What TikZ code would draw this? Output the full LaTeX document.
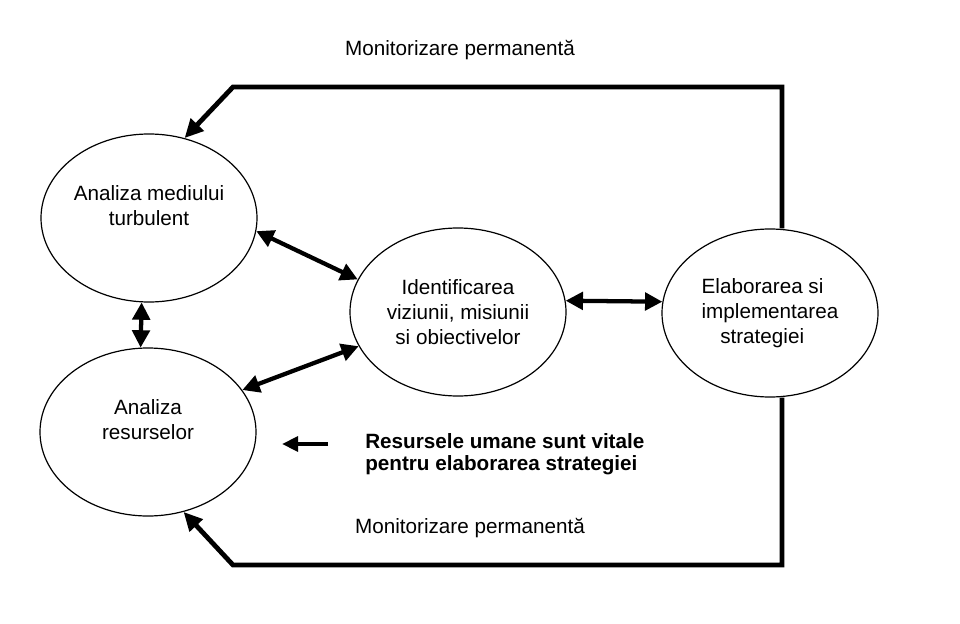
\documentclass[tikz,border=0pt]{standalone}
\usepackage{fontspec}
\setmainfont{Liberation Sans}
\usetikzlibrary{arrows.meta}
\usetikzlibrary{shapes.geometric}

\begin{document}
\begin{tikzpicture}[x=0.75pt,y=-0.75pt,
    font=\fontsize{15.5}{19}\selectfont,
    stage/.style={ellipse, draw, line width=0.9pt, inner sep=0pt, align=center,
      minimum width=162pt, minimum height=126pt},
    duplex/.style={line width=3.2pt,
      {Triangle[length=13pt,width=13pt]}-{Triangle[length=13pt,width=13pt]}},
    feedback/.style={line width=3.6pt, -{Triangle[length=14pt,width=13pt]}}]

    \useasboundingbox (0,0) rectangle (960,624);

    % stages
    \node[stage] (E1) at (149,218) {Analiza mediului\\turbulent\\~};
    \node[stage] (E2) at (148,432) {Analiza\\resurselor\\~};
    \node[stage] (E3) at (458,312) {Identificarea\\viziunii, misiunii\\si obiectivelor};
    \node[stage, align=left] (E4) at (770,313) {Elaborarea si\\implementarea\\\hspace*{0.9em}strategiei};

    % two-way links
    \foreach \a/\b in {E1.-7/E3.162, E1.265/E2.95, E2.24/E3.199, E3.6/E4.174}
      \draw[duplex] (\a) -- (\b);

    % monitoring loops
    \coordinate (topR) at (782,87);
    \coordinate (topL) at (233,87);
    \coordinate (botR) at (782,565);
    \coordinate (botL) at (233,565);
    \draw[feedback] (E4.north -| topR) -- (topR) -- (topL) -- (E1.66);
    \draw[feedback] (E4.south -| botR) -- (botR) -- (botL) -- (E2.-66);
    \node (monTop) at (460,50) {Monitorizare permanentă};
    \node (monBot) at (470,528) {Monitorizare permanentă};

    % note on human resources
    \node[anchor=north west, inner sep=0pt, align=left,
      font=\bfseries\fontsize{15.5}{17}\selectfont] (note) at (365,433)
      {Resursele umane sunt vitale\\pentru elaborarea strategiei};
    \coordinate (noteTail) at (328,444);
    \coordinate (noteTip) at (282,444);
    \draw[line width=3pt, -{Triangle[length=12pt,width=11pt]}] (noteTail) -- (noteTip);
\end{tikzpicture}
\end{document}
